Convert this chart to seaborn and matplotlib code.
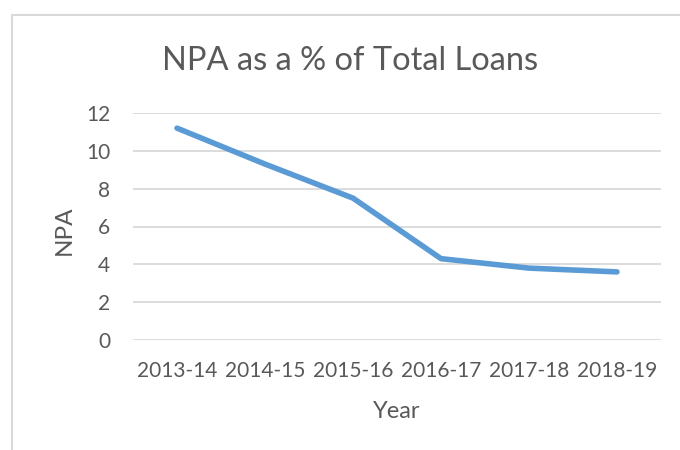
import matplotlib
matplotlib.use("Agg")
import matplotlib.pyplot as plt
import seaborn as sns
import pandas as pd
from matplotlib.patches import Rectangle

years = ["2013-14", "2014-15", "2015-16", "2016-17", "2017-18", "2018-19"]
npa = [11.2, 9.3, 7.5, 4.3, 3.8, 3.6]
yticks = [0, 2, 4, 6, 8, 10, 12]

sns.set_theme(style="white")
plt.rcParams['font.family'] = ['Lato', 'DejaVu Sans']

df = pd.DataFrame({"Year": years, "NPA": npa})

W, H = 680, 450
fig = plt.figure(figsize=(6.8, 4.5), dpi=100)
ax = fig.add_axes([133/W, 1 - 340/H, (661-133)/W, (340-113)/H])

text_c = "#595959"
sns.lineplot(data=df, x="Year", y="NPA", ax=ax, color="#5B9BD5", linewidth=4,
             sort=False, solid_capstyle="round", solid_joinstyle="round")

ax.set_xlim(-0.5, len(years) - 0.5)
ax.set_ylim(0, 12)
ax.set_yticks(yticks)
ax.set_yticklabels([str(v) for v in yticks])
ax.yaxis.grid(True, color="#D9D9D9", linewidth=1.3)
ax.set_axisbelow(True)
for s in ax.spines.values():
    s.set_visible(False)
ax.tick_params(axis="both", length=0, labelsize=15, colors=text_c)
ax.tick_params(axis="x", pad=15)
ax.tick_params(axis="y", pad=16.5)

ax.set_xlabel("")
ax.set_ylabel("")
fig.text(397/W, 1 - 418/H, "Year", ha="center", va="baseline",
         fontsize=17, color=text_c)
fig.text(71/W, 1 - 230.5/H, "NPA", rotation=90, rotation_mode="anchor",
         ha="center", va="baseline", fontsize=17.5, color=text_c)
fig.text(350.5/W, 1 - 70/H, "NPA as a % of Total Loans", ha="center", va="baseline",
         fontsize=23.5, color=text_c)

fig.patches.append(Rectangle((12/W, -0.1), 1.2, (H - 15)/H + 0.1,
                             transform=fig.transFigure, fill=False,
                             edgecolor="#D9D9D9", linewidth=1.5))

fig.savefig("out.png", dpi=100)
